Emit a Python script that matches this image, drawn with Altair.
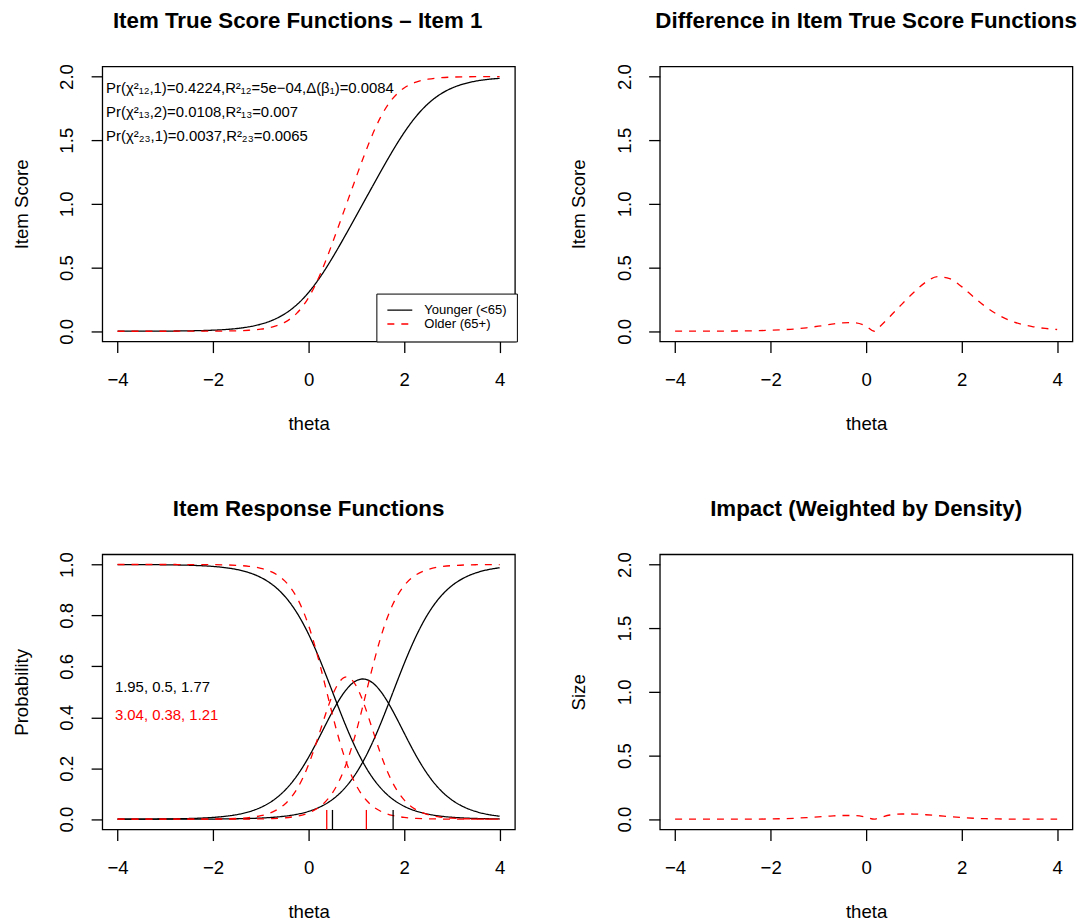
import altair as alt
import pandas as pd

# ---------------- data ----------------
THETA = [-4.0, -3.75, -3.5, -3.25, -3.0, -2.75, -2.5, -2.25, -2.0, -1.75,
         -1.5, -1.25, -1.0, -0.75, -0.5, -0.25, 0.0, 0.25, 0.5, 0.75,
         1.0, 1.25, 1.5, 1.75, 2.0, 2.25, 2.5, 2.75, 3.0, 3.25,
         3.5, 3.75, 4.0]

YOUNG_TSF = [0.0002, 0.0003, 0.0004, 0.0008, 0.0012, 0.0019, 0.0031, 0.0051, 0.0082, 0.0133,
             0.0215, 0.0347, 0.0554, 0.0876, 0.1363, 0.2072, 0.3046, 0.4296, 0.5775, 0.7399,
             0.9083, 1.0781, 1.2468, 1.4100, 1.5594, 1.6864, 1.7861, 1.8589, 1.9091, 1.9424,
             1.9639, 1.9776, 1.9861]
OLDER_TSF = [0.0000, 0.0000, 0.0000, 0.0000, 0.0000, 0.0001, 0.0002, 0.0003, 0.0008, 0.0016,
             0.0036, 0.0076, 0.0160, 0.0338, 0.0699, 0.1401, 0.2643, 0.4537, 0.6938, 0.9531,
             1.2139, 1.4642, 1.6752, 1.8225, 1.9098, 1.9560, 1.9790, 1.9901, 1.9954, 1.9978,
             1.9990, 1.9996, 1.9998]

YOUNG_P0 = [0.9998, 0.9997, 0.9996, 0.9993, 0.9989, 0.9982, 0.9971, 0.9953, 0.9924, 0.9877,
            0.9802, 0.9681, 0.9491, 0.9197, 0.8755, 0.8119, 0.7261, 0.6195, 0.5000, 0.3805,
            0.2739, 0.1881, 0.1245, 0.0803, 0.0509, 0.0319, 0.0198, 0.0123, 0.0076, 0.0047,
            0.0029, 0.0018, 0.0011]
YOUNG_P1 = [0.0002, 0.0003, 0.0004, 0.0006, 0.0010, 0.0017, 0.0027, 0.0043, 0.0070, 0.0113,
            0.0181, 0.0291, 0.0464, 0.0730, 0.1127, 0.1690, 0.2432, 0.3314, 0.4225, 0.4991,
            0.5439, 0.5457, 0.5042, 0.4294, 0.3388, 0.2498, 0.1743, 0.1165, 0.0757, 0.0482,
            0.0303, 0.0188, 0.0117]
YOUNG_P2 = [0.0000, 0.0000, 0.0000, 0.0001, 0.0001, 0.0001, 0.0002, 0.0004, 0.0006, 0.0010,
            0.0017, 0.0028, 0.0045, 0.0073, 0.0118, 0.0191, 0.0307, 0.0491, 0.0775, 0.1204,
            0.1822, 0.2662, 0.3713, 0.4903, 0.6103, 0.7183, 0.8059, 0.8712, 0.9167, 0.9471,
            0.9668, 0.9794, 0.9872]
OLDER_P0 = [1.0000, 1.0000, 1.0000, 1.0000, 1.0000, 0.9999, 0.9998, 0.9997, 0.9993, 0.9985,
            0.9967, 0.9930, 0.9852, 0.9688, 0.9356, 0.8716, 0.7604, 0.5975, 0.4098, 0.2451,
            0.1318, 0.0663, 0.0321, 0.0153, 0.0072, 0.0034, 0.0016, 0.0007, 0.0003, 0.0002,
            0.0001, 0.0000, 0.0000]
OLDER_P1 = [0.0000, 0.0000, 0.0000, 0.0000, 0.0000, 0.0001, 0.0002, 0.0003, 0.0006, 0.0014,
            0.0030, 0.0064, 0.0136, 0.0286, 0.0589, 0.1167, 0.2149, 0.3513, 0.4866, 0.5567,
            0.5225, 0.4032, 0.2606, 0.1469, 0.0758, 0.0372, 0.0178, 0.0085, 0.0040, 0.0018,
            0.0008, 0.0004, 0.0002]
OLDER_P2 = [0.0000, 0.0000, 0.0000, 0.0000, 0.0000, 0.0000, 0.0000, 0.0000, 0.0001, 0.0001,
            0.0003, 0.0006, 0.0012, 0.0026, 0.0055, 0.0117, 0.0247, 0.0512, 0.1036, 0.1982,
            0.3457, 0.5305, 0.7073, 0.8378, 0.9170, 0.9594, 0.9806, 0.9908, 0.9957, 0.9980,
            0.9991, 0.9996, 0.9998]

THETA_D = [-4.0, -3.75, -3.5, -3.25, -3.0, -2.75, -2.5, -2.25, -2.0, -1.75,
           -1.5, -1.25, -1.0, -0.75, -0.5, -0.25, 0.0, 0.17, 0.25, 0.5, 0.75,
           1.0, 1.25, 1.5, 1.75, 2.0, 2.25, 2.5, 2.75, 3.0, 3.25,
           3.5, 3.75, 4.0]
DIFF = [0.0002, 0.0003, 0.0004, 0.0008, 0.0012, 0.0018, 0.0029, 0.0048, 0.0074, 0.0117,
        0.0179, 0.0271, 0.0394, 0.0538, 0.0664, 0.0671, 0.0403, 0.0000, 0.0241, 0.1163, 0.2132,
        0.3056, 0.3861, 0.4284, 0.4125, 0.3504, 0.2696, 0.1929, 0.1312, 0.0863, 0.0554,
        0.0351, 0.0220, 0.0137]
IMPACT = [0.0000, 0.0000, 0.0000, 0.0000, 0.0001, 0.0002, 0.0005, 0.0010, 0.0021, 0.0040,
          0.0075, 0.0125, 0.0185, 0.0245, 0.0290, 0.0290, 0.0160, 0.0000, 0.0080, 0.0330, 0.0410,
          0.0405, 0.0350, 0.0280, 0.0200, 0.0130, 0.0075, 0.0040, 0.0020, 0.0010, 0.0005,
          0.0002, 0.0001, 0.0000]

GROUPS = ["Younger (<65)", "Older (65+)"]
B_YOUNG = [0.5, 1.77]
B_OLDER = [0.38, 1.21]
PARAM_TEXT = ["1.95, 0.5, 1.77", "3.04, 0.38, 1.21"]
STAT_LINES = ["Pr(\u03c7\u00b2\u2081\u2082,1)=0.4224,R\u00b2\u2081\u2082=5e\u221204,\u0394(\u03b2\u2081)=0.0084",
              "Pr(\u03c7\u00b2\u2081\u2083,2)=0.0108,R\u00b2\u2081\u2083=0.007",
              "Pr(\u03c7\u00b2\u2082\u2083,1)=0.0037,R\u00b2\u2082\u2083=0.0065"]
TITLES = ["Item True Score Functions \u2013 Item 1",
          "Difference in Item True Score Functions",
          "Item Response Functions",
          "Impact (Weighted by Density)"]

# ---------------- styling ----------------
FONT = "Liberation Sans"
W, H = 414, 276
RED = "#FF0000"
LW = 1.3
BASE = 18.67

color_scale = alt.Scale(domain=GROUPS, range=["black", RED])
dash_scale = alt.Scale(domain=GROUPS, range=[[1, 0], [7, 7]])
xscale = alt.Scale(domain=[-4.32, 4.32], nice=False, zero=False)


def xax():
    return alt.Axis(values=[-4, -2, 0, 2, 4], format=".0f", title="theta",
                    labelBaseline="middle", labelPadding=27.4,
                    titleBaseline="alphabetic", titleY=88, titleX=W / 2, titleAlign="center")


def yax(title, vals):
    return alt.Axis(values=vals, format=".1f", title=title,
                    labelAngle=270, labelAlign="center", labelBaseline="middle", labelPadding=24.4,
                    titleAngle=270, titleBaseline="alphabetic", titleX=-75.2, titleY=H / 2,
                    titleAlign="center")


def ttl(text, dx=0):
    return alt.TitleParams(text, fontSize=22.4, fontWeight="bold", anchor="middle",
                           frame="group", offset=30.9, dx=dx, font=FONT, color="black")


# ---------------- panel 1: true score functions ----------------
tsf_df = pd.DataFrame({
    "theta": THETA + THETA,
    "score": YOUNG_TSF + OLDER_TSF,
    "group": [GROUPS[0]] * len(THETA) + [GROUPS[1]] * len(THETA),
})
leg = alt.Legend(title=None, orient="none", legendX=275, legendY=228,
                 strokeColor="black", fillColor="white", padding=10, cornerRadius=0,
                 symbolType="M-2.5,0H2.5", symbolSize=100, symbolStrokeWidth=LW, symbolOffset=7,
                 labelFontSize=13.07, labelFont=FONT, labelColor="black",
                 labelOffset=18, rowPadding=0)
ysc2 = alt.Scale(domain=[-0.08, 2.08], nice=False, zero=False)
tsf_lines = alt.Chart(tsf_df).mark_line(strokeWidth=LW, interpolate="natural", clip=True).encode(
    x=alt.X("theta:Q", scale=xscale, axis=xax()),
    y=alt.Y("score:Q", scale=ysc2, axis=yax("Item Score", [0, 0.5, 1, 1.5, 2])),
    color=alt.Color("group:N", scale=color_scale, sort=GROUPS, legend=leg),
    strokeDash=alt.StrokeDash("group:N", scale=dash_scale, sort=GROUPS, legend=leg),
)
stat_df = pd.DataFrame({"label": STAT_LINES, "py": [26.9, 50.4, 74.9]})
stat_text = alt.Chart(stat_df).mark_text(align="left", baseline="alphabetic", fontSize=14.93,
                                         font=FONT, color="black").encode(
    x=alt.value(3.8), y=alt.Y("py:Q", scale=None), text="label:N")
p1 = alt.layer(tsf_lines, stat_text).properties(width=W, height=H, title=ttl(TITLES[0], -11))

# ---------------- panel 2: difference ----------------
diff_df = pd.DataFrame({"theta": THETA_D, "diff": DIFF})
p2 = alt.Chart(diff_df).mark_line(strokeWidth=LW, color=RED, strokeDash=[7, 7],
                                  interpolate="monotone", clip=True).encode(
    x=alt.X("theta:Q", scale=xscale, axis=xax()),
    y=alt.Y("diff:Q", scale=ysc2, axis=yax("Item Score", [0, 0.5, 1, 1.5, 2])),
).properties(width=W, height=H, title=ttl(TITLES[1]))

# ---------------- panel 3: item response functions ----------------
irf_rows = []
for grp, cats in [(GROUPS[0], [YOUNG_P0, YOUNG_P1, YOUNG_P2]),
                  (GROUPS[1], [OLDER_P0, OLDER_P1, OLDER_P2])]:
    for k, vals in enumerate(cats):
        for t, v in zip(THETA, vals):
            irf_rows.append({"theta": t, "prob": v, "group": grp, "cat": f"{grp}-{k}"})
irf_df = pd.DataFrame(irf_rows)
ysc1 = alt.Scale(domain=[-0.04, 1.04], nice=False, zero=False)
irf_lines = alt.Chart(irf_df).mark_line(strokeWidth=LW, interpolate="natural", clip=True).encode(
    x=alt.X("theta:Q", scale=xscale, axis=xax()),
    y=alt.Y("prob:Q", scale=ysc1, axis=yax("Probability", [0, 0.2, 0.4, 0.6, 0.8, 1.0])),
    color=alt.Color("group:N", scale=color_scale, sort=GROUPS, legend=None),
    strokeDash=alt.StrokeDash("group:N", scale=dash_scale, sort=GROUPS, legend=None),
    detail="cat:N",
)
rug_df = pd.DataFrame({"b": B_YOUNG + B_OLDER,
                       "group": [GROUPS[0]] * len(B_YOUNG) + [GROUPS[1]] * len(B_OLDER)})
rug = alt.Chart(rug_df).mark_rule(strokeWidth=LW).encode(
    x=alt.X("b:Q", scale=xscale),
    y=alt.value(H), y2=alt.value(H - 19.5),
    color=alt.Color("group:N", scale=color_scale, sort=GROUPS, legend=None),
)
par_df = pd.DataFrame({"label": PARAM_TEXT, "group": GROUPS, "py": [137.9, 166.2]})
par_text = alt.Chart(par_df).mark_text(align="left", baseline="alphabetic", fontSize=14.93,
                                       font=FONT).encode(
    x=alt.value(12.7), y=alt.Y("py:Q", scale=None), text="label:N",
    color=alt.Color("group:N", scale=color_scale, sort=GROUPS, legend=None),
)
p3 = alt.layer(irf_lines, rug, par_text).properties(width=W, height=H, title=ttl(TITLES[2]))

# ---------------- panel 4: impact ----------------
imp_df = pd.DataFrame({"theta": THETA_D, "impact": IMPACT})
p4 = alt.Chart(imp_df).mark_line(strokeWidth=LW, color=RED, strokeDash=[7, 7],
                                 interpolate="monotone", clip=True).encode(
    x=alt.X("theta:Q", scale=xscale, axis=xax()),
    y=alt.Y("impact:Q", scale=ysc2, axis=yax("Size", [0, 0.5, 1, 1.5, 2])),
).properties(width=W, height=H, title=ttl(TITLES[3]))

chart = alt.concat(p1, p2, p3, p4, columns=2, spacing={"row": 213.6, "column": 145.4},
                   bounds="flush").resolve_scale(
    color="independent", strokeDash="independent", x="independent", y="independent"
).configure(
    font=FONT, padding={"left": 3.6, "top": 0, "right": 5, "bottom": 5}
).configure_view(
    stroke="black", strokeWidth=LW
).configure_axis(
    domain=False, grid=False, ticks=True, tickSize=11.2, tickWidth=LW, tickColor="black",
    labelFont=FONT, labelFontSize=BASE, labelColor="black", labelFlush=False,
    labelOverlap=False, labelBound=False,
    titleFont=FONT, titleFontSize=BASE, titleFontWeight="normal", titleColor="black",
)

chart.save("out.html", embed_options={"renderer": "svg", "actions": False})
